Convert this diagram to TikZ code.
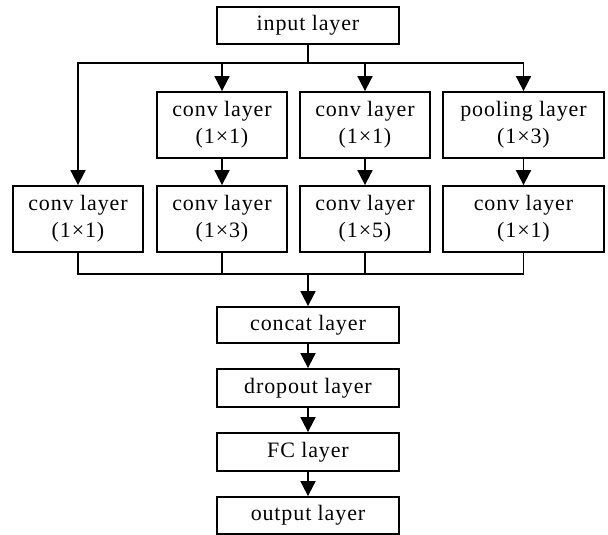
\documentclass[tikz,border=0pt]{standalone}
\usepackage{fontspec}
\setmainfont{Liberation Serif}[LetterSpace=4]
\usetikzlibrary{arrows.meta}
\tikzset{
  layerbox/.style={draw, line width=1.8pt, inner sep=0pt, align=center,
    font=\fontsize{22}{27}\selectfont},
  flow/.style={line width=1.8pt},
  flowarrow/.style={flow, -{Triangle[length=15pt,width=15pt]}}
}
\newcommand{\netlayer}[5]{
  \node[layerbox, minimum width=#3, minimum height=#4] (#1) at #2 {#5};
}

\begin{document}
\begin{tikzpicture}[x=1pt, y=-1pt]
  \useasboundingbox (0,0) rectangle (608,535);
  % input and the four branches
  \netlayer{input}{(308,25.5)}{182pt}{37pt}{input layer}
  \netlayer{conva}{(222,125)}{130pt}{66pt}{conv layer\\(1×1)}
  \netlayer{convb}{(365,125)}{130pt}{66pt}{conv layer\\(1×1)}
  \netlayer{pool}{(523.5,125)}{161pt}{66pt}{pooling layer\\(1×3)}
  \netlayer{convc}{(78,219)}{130pt}{66pt}{conv layer\\(1×1)}
  \netlayer{convd}{(222,219)}{130pt}{66pt}{conv layer\\(1×3)}
  \netlayer{conve}{(365,219)}{130pt}{66pt}{conv layer\\(1×5)}
  \netlayer{convf}{(523.5,219)}{161pt}{66pt}{conv layer\\(1×1)}
  % head of the network
  \netlayer{concat}{(308,325)}{182pt}{36pt}{concat layer}
  \netlayer{dropout}{(308,388)}{182pt}{38pt}{dropout layer}
  \netlayer{fc}{(308,452)}{182pt}{38pt}{FC layer}
  \netlayer{output}{(308,515.5)}{182pt}{37pt}{output layer}

  \coordinate (split) at (308,63);
  \coordinate (merge) at (308,274);

  \draw[flow] (input) -- (split);
  \foreach \n in {convc,conva,convb,pool}
    \draw[flowarrow] (split) -| (\n.north);
  \draw[flowarrow] (conva) -- (convd);
  \draw[flowarrow] (convb) -- (conve);
  \draw[flowarrow] (pool) -- (convf);

  \foreach \n in {convc,convd,conve,convf}
    \draw[flow] (\n.south) |- (merge);
  \draw[flowarrow] (merge) -- (concat);
  \draw[flowarrow] (concat) -- (dropout);
  \draw[flowarrow] (dropout) -- (fc);
  \draw[flowarrow] (fc) -- (output);
\end{tikzpicture}
\end{document}
